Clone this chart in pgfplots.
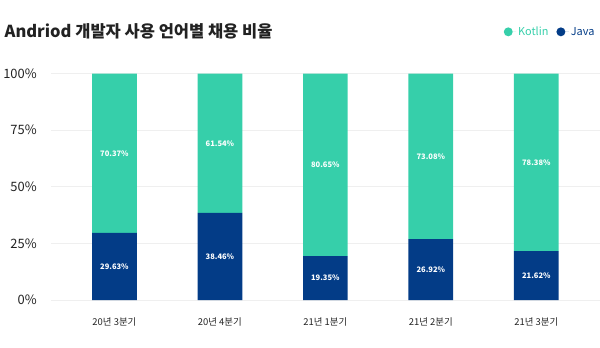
\documentclass[border=0pt]{standalone}
\usepackage{fontspec}
\setmainfont{Noto Sans CJK KR}
\usepackage{pgfplots}
\pgfplotsset{compat=1.18}
\definecolor{kot}{HTML}{36CFAA}
\definecolor{jav}{HTML}{033C87}
\definecolor{gridc}{HTML}{EFEFEF}
\definecolor{txt}{HTML}{222222}
\pgfplotsset{
  base/.style={
    at={(48pt,48pt)}, anchor=south west,
    scale only axis, width=552pt, height=228pt,
    xmin=-0.6, xmax=4.6, ymin=0, ymax=100,
    clip=false,
  }
}
\begin{document}
\begin{tikzpicture}
\path (0pt,0pt) rectangle (600pt,350pt);
\node[anchor=base west, inner sep=0, font=\fontsize{16.6}{19}\selectfont\bfseries, text=txt] at (1pt,312pt) {Andriod 개발자 사용 언어별 채용 비율};
\begin{axis}[
  base,
  ybar stacked, bar width=45pt,
  axis line style={draw=none},
  major tick length=0pt,
  ytick={0,25,50,75,100},
  yticklabel={\pgfmathprintnumber{\tick}\%},
  yticklabel style={font=\fontsize{13}{15}\selectfont, text=txt, xshift=-11pt},
  xtick={0,...,4},
  xticklabels={20년 3분기, 20년 4분기, 21년 1분기, 21년 2분기, 21년 3분기},
  xticklabel style={font=\fontsize{9.5}{11}\selectfont, text=txt, yshift=-14pt},
  ymajorgrids, grid style={gridc, line width=0.8pt},
  /pgf/number format/assume math mode=true,
  legend style={at={(1,1.184)}, anchor=east, draw=none, fill=none, legend columns=2, font=\fontsize{11}{13}\selectfont, /tikz/every even column/.append style={column sep=6pt}},
  legend image code/.code={\fill[#1] (3pt,0pt) circle (4.5pt); \path (0pt,0pt) -- (11pt,0pt);},
]
\addlegendimage{fill=kot, draw=none}
\addlegendentry{\textcolor{kot}{Kotlin}}
\addlegendimage{fill=jav, draw=none}
\addlegendentry{\textcolor{jav}{Java}}
\addplot[fill=jav, draw=none, forget plot] coordinates {(0,29.63) (1,38.46) (2,19.35) (3,26.92) (4,21.62)};
\addplot[fill=kot, draw=none, forget plot] coordinates {(0,70.37) (1,61.54) (2,80.65) (3,73.08) (4,78.38)};
\end{axis}
\begin{axis}[
  base, hide axis,
  nodes near coords, point meta=explicit symbolic,
  every node near coord/.append style={font=\fontsize{7.6}{9}\selectfont\bfseries, text=white, anchor=center},
]
\addplot[only marks, mark=none] table[meta=lab] {
x y lab
0 14.815 29.63\%
1 19.23 38.46\%
2 9.675 19.35\%
3 13.46 26.92\%
4 10.81 21.62\%
0 64.815 70.37\%
1 69.23 61.54\%
2 59.675 80.65\%
3 63.46 73.08\%
4 60.81 78.38\%
};
\end{axis}
\end{tikzpicture}
\end{document}
